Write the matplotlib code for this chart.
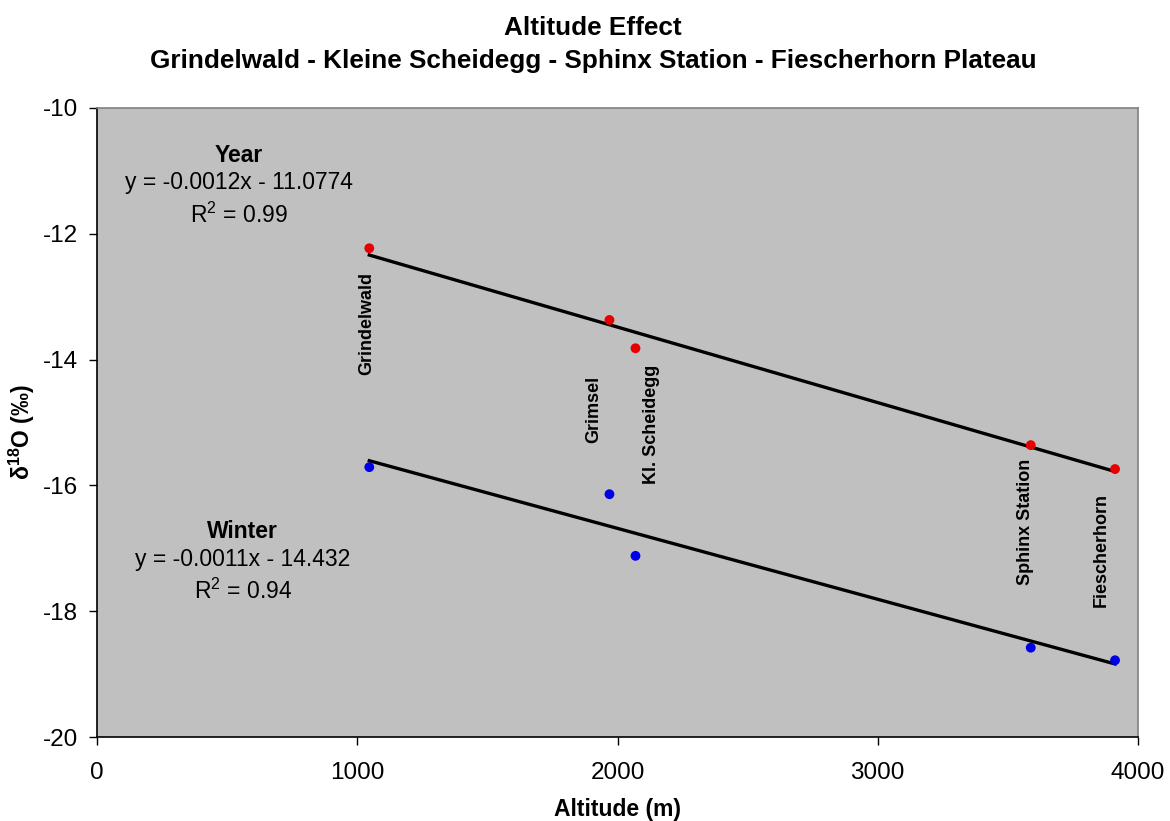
import numpy as np
import matplotlib.pyplot as plt

plt.rcParams['font.family'] = ['Liberation Sans', 'DejaVu Sans']
plt.rcParams['axes.unicode_minus'] = False
plt.rcParams['mathtext.fontset'] = 'custom'
plt.rcParams['mathtext.rm'] = 'Liberation Sans'
plt.rcParams['mathtext.bf'] = 'Liberation Sans:bold'
plt.rcParams['mathtext.it'] = 'Liberation Sans:italic'

# station altitudes (m) and d18O values (permil)
altitude = [1046, 1969, 2069, 3588, 3912]
year_d18o = [-12.23, -13.37, -13.82, -15.36, -15.74]
winter_d18o = [-15.71, -16.14, -17.12, -18.58, -18.78]

# trend line captions as printed on the chart
year_eq = ['Year', 'y = -0.0012x - 11.0774', r'R$^2$ = 0.99']
winter_eq = ['Winter', 'y = -0.0011x - 14.432', r'R$^2$ = 0.94']

stations = ['Grindelwald', 'Grimsel', 'Kl. Scheidegg', 'Sphinx Station', 'Fiescherhorn']
label_x = [1035, 1910, 2130, 3569, 3858]
label_y = [-13.42, -14.8, -15.03, -16.58, -17.03]

fig = plt.figure(figsize=(11.7, 8.21), dpi=100)
ax = fig.add_axes([0.083, 0.1023, 0.8896, 0.7662])
ax.set_facecolor('#c0c0c0')

xs = np.array([min(altitude), max(altitude)])
for ys in (year_d18o, winter_d18o):
    slope, icpt = np.polyfit(altitude, ys, 1)
    ax.plot(xs, slope * xs + icpt, color='black', lw=2.4, zorder=2)

ax.scatter(altitude, year_d18o, s=50, color='#e60000', zorder=3, edgecolors='none')
ax.scatter(altitude, winter_d18o, s=50, color='#0000e6', zorder=3, edgecolors='none')

for name, lx, ly in zip(stations, label_x, label_y):
    ax.text(lx, ly, name, rotation=90, ha='center', va='center',
            fontsize=13, fontweight='bold')

def eq_block(x, y0, lines):
    ax.text(x, y0, lines[0], ha='center', va='center', fontsize=16.5, fontweight='bold')
    ax.text(x, y0 - 0.44, lines[1], ha='center', va='center', fontsize=16.5)
    ax.text(x, y0 - 0.95, lines[2], ha='center', va='center', fontsize=16.5)

eq_block(545, -10.75, year_eq)
eq_block(560, -16.74, winter_eq)

ax.set_xlim(0, 4000)
ax.set_ylim(-20, -10)
ax.set_xticks([0, 1000, 2000, 3000, 4000])
ax.set_yticks([-20, -18, -16, -14, -12, -10])
ax.tick_params(labelsize=17.5, length=6, width=1, direction='out')
ax.tick_params(axis='x', pad=12)
ax.tick_params(axis='y', pad=8)

for side in ('left', 'bottom'):
    ax.spines[side].set_color('black')
    ax.spines[side].set_linewidth(1.2)
for side in ('top', 'right'):
    ax.spines[side].set_color('#808080')
    ax.spines[side].set_linewidth(1.2)

ax.set_xlabel('Altitude (m)', fontsize=16.5, fontweight='bold', labelpad=10)
ax.set_ylabel(r'δ$^{\mathbf{18}}$O (‰)', fontsize=16.5, fontweight='bold')
ax.yaxis.set_label_coords(-0.058, 0.485)
fig.suptitle('Altitude Effect\nGrindelwald - Kleine Scheidegg - Sphinx Station - Fiescherhorn Plateau',
             fontsize=18.8, fontweight='bold', x=0.507, y=0.981, linespacing=1.5)

fig.savefig('out.png', dpi=100)
